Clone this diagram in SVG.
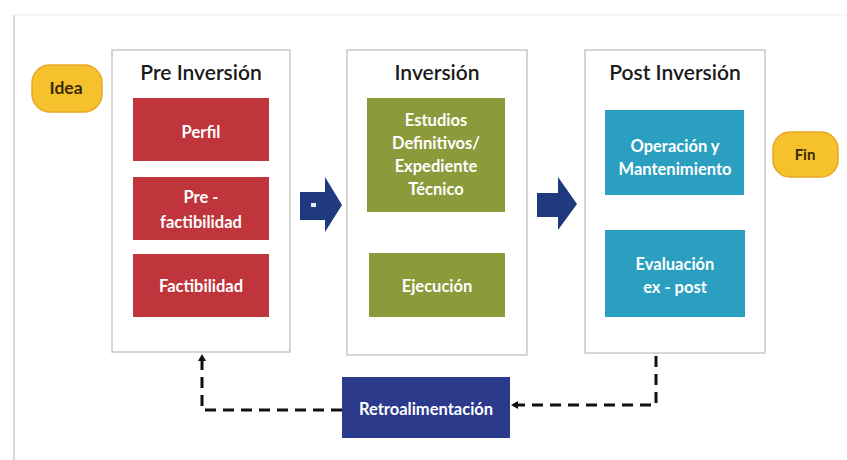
<svg xmlns="http://www.w3.org/2000/svg" width="847" height="460" viewBox="0 0 847 460">
<defs>
<style>
.frame{fill:#fff;stroke:#c9c9c0;stroke-width:1.5}
.title{font-family:Lato,"Open Sans",sans-serif;font-size:21px;fill:#1a1a1a;text-anchor:middle;font-weight:600}
.lbl{font-family:Lato,"Open Sans",sans-serif;font-size:16.5px;fill:#fff;text-anchor:middle;font-weight:700}
.red{fill:#c0343c}
.green{fill:#8b9a3b}
.teal{fill:#2a9fc0}
.pill{fill:#f5c22e;stroke:#e8a824;stroke-width:1.5}
.pilltxt{font-family:Lato,"Open Sans",sans-serif;font-size:15px;fill:#3a2a00;text-anchor:middle;font-weight:700}
.bigarrow{fill:#1f3a7e}
.dash{fill:none;stroke:#111;stroke-width:3;stroke-dasharray:11 7}
</style>
<marker id="ah" markerWidth="8" markerHeight="8" refX="6" refY="4" orient="auto" markerUnits="userSpaceOnUse">
<path d="M0,0 L7,4 L0,8 Z" fill="#111"/>
</marker>
</defs>
<rect width="847" height="460" fill="#fff"/>
<line x1="14" y1="15" x2="14" y2="460" stroke="#d8d8d8" stroke-width="2"/>
<line x1="14" y1="15" x2="847" y2="15" stroke="#f3f3f3" stroke-width="1.5"/>

<g id="idea">
<rect class="pill" x="32" y="65" width="70" height="47" rx="18"/>
<text class="pilltxt" x="66" y="94" style="font-size:17.5px">Idea</text>
</g>

<g id="preinversion">
<rect class="frame" x="112" y="50" width="178" height="302"/>
<text class="title" x="201" y="80">Pre Inversión</text>
</g>
<g id="perfil">
<rect class="red" x="133" y="98" width="136" height="63"/>
<text class="lbl" x="201" y="138">Perfil</text>
</g>
<g id="prefactibilidad">
<rect class="red" x="133" y="177" width="136" height="63"/>
<text class="lbl" x="201" y="203">Pre -</text>
<text class="lbl" x="201" y="228">factibilidad</text>
</g>
<g id="factibilidad">
<rect class="red" x="133" y="254" width="136" height="63"/>
<text class="lbl" x="201" y="292">Factibilidad</text>
</g>

<g id="inversion">
<rect class="frame" x="347" y="50" width="180" height="305"/>
<text class="title" x="437" y="80">Inversión</text>
</g>
<g id="estudios">
<rect class="green" x="367" y="98" width="138" height="114"/>
<text class="lbl" x="436" y="126">Estudios</text>
<text class="lbl" x="436" y="149">Definitivos/</text>
<text class="lbl" x="436" y="172">Expediente</text>
<text class="lbl" x="436" y="195">Técnico</text>
</g>
<g id="ejecucion">
<rect class="green" x="369" y="253" width="136" height="64"/>
<text class="lbl" x="437" y="292">Ejecución</text>
</g>

<g id="postinversion">
<rect class="frame" x="585" y="50" width="180" height="303"/>
<text class="title" x="675" y="80">Post Inversión</text>
</g>
<g id="operacion">
<rect class="teal" x="605" y="110" width="139" height="85"/>
<text class="lbl" x="675" y="152">Operación y</text>
<text class="lbl" x="675" y="175">Mantenimiento</text>
</g>
<g id="evaluacion">
<rect class="teal" x="605" y="230" width="140" height="87"/>
<text class="lbl" x="675" y="270">Evaluación</text>
<text class="lbl" x="675" y="293">ex - post</text>
</g>

<g id="fin">
<rect class="pill" x="773" y="132" width="65" height="45" rx="17"/>
<text class="pilltxt" x="805" y="160">Fin</text>
</g>

<g id="retroalimentacion">
<rect x="342" y="377" width="168" height="61" fill="#2b3a8a"/>
<text class="lbl" x="426" y="415">Retroalimentación</text>
</g>

<g id="connectors">
<path class="bigarrow" d="M300,192 L325,192 L325,177 L342,205 L325,232 L325,220 L300,220 Z"/>
<rect x="311" y="203" width="5" height="4" fill="#e8ecf5"/>
<path class="bigarrow" d="M537,193 L558,193 L558,177 L577,204 L558,230 L558,217 L537,217 Z"/>
<path class="dash" d="M656,356 L656,405 L512,405" marker-end="url(#ah)"/>
<path class="dash" d="M342,410 L202,410 L202,355" marker-end="url(#ah)"/>
</g>
</svg>
